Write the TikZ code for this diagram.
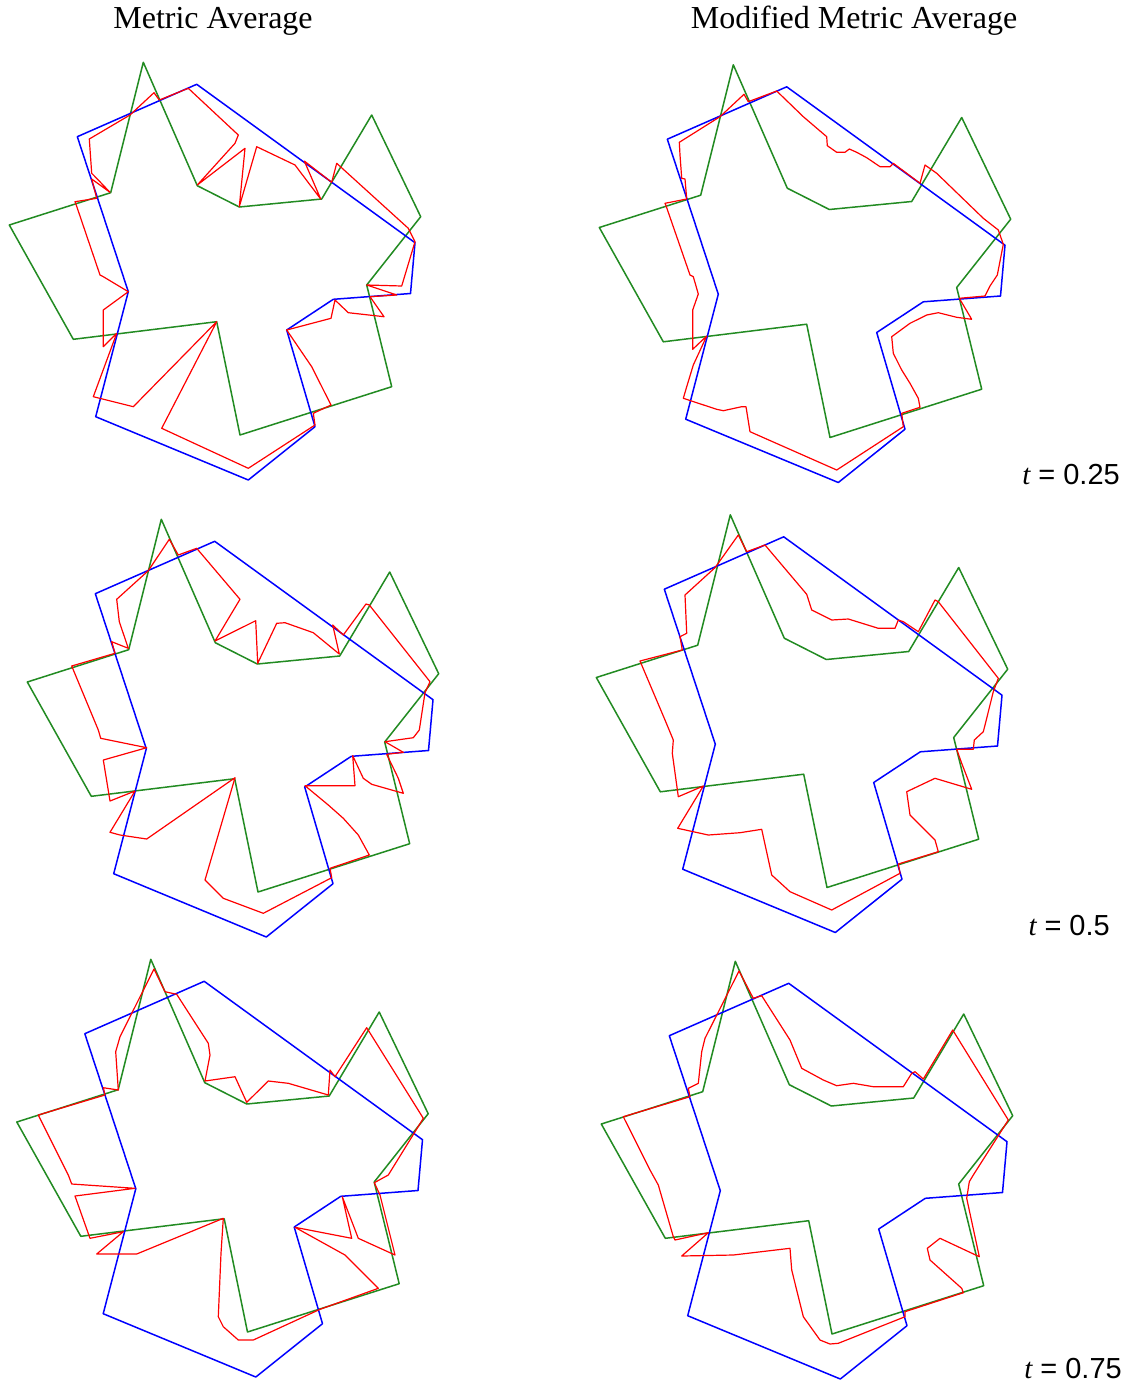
\documentclass[tikz,border=0pt]{standalone}
\usepackage{fontspec}
\setmainfont{Liberation Serif}
\setsansfont{Liberation Sans}
\def\BluePoly{(77.3,136.7) -- (196.7,84.3) -- (415,242.7) -- (410.5,293.5) -- (333.3,299.3) -- (286.7,330) -- (315,426.7) -- (248.3,480) -- (95.7,416.7) -- (128.3,291.7) -- cycle}
\def\GreenPoly{(143.3,62.3) -- (197.3,185.7) -- (239.3,207) -- (321.7,199) -- (371.7,115) -- (420.7,216.7) -- (366.7,285) -- (391.7,386.7) -- (240,435) -- (216.7,321.7) -- (73.3,339.3) -- (9.3,225) -- (110.7,192.7) -- cycle}
\definecolor{pgreen}{RGB}{34,139,34}
\definecolor{pblue}{RGB}{0,0,255}
\definecolor{pred}{RGB}{255,0,0}
\tikzset{
  bl/.style={draw=pblue, line width=1.5pt, line join=round},
  gr/.style={draw=pgreen, line width=1.5pt, line join=round},
  rd/.style={draw=pred, line width=1.2pt, line join=round},
  ttl/.style={font=\fontsize{32}{38}\selectfont, inner sep=0pt},
  tlab/.style={font=\fontsize{29}{34}\selectfont, inner sep=0pt, anchor=base east}
}
\begin{document}
\begin{tikzpicture}[x=1pt,y=-1pt]
\useasboundingbox (0,0) rectangle (1129,1384);
\fill[white] (0,0) rectangle (1129,1384);
% titles
\node[ttl] (t1) at (213,21) {Metric Average};
\node[ttl] (t2) at (854,21) {Modified Metric Average};
% panel 1
\begin{scope}
\draw[gr] \GreenPoly; \draw[bl] \BluePoly;
\end{scope}
\draw[rd] (89.3,139) -- (130,115) -- (154,92.7) -- (159.3,100) -- (188.3,88.3) -- (238.3,135) -- (235,143.3) -- (197.3,185) -- (245,148.3) -- (239.3,206.7) -- (256.7,146.7) -- (295,165) -- (320.7,199) -- (304.3,161) -- (331.7,182.3) -- (336.7,163.3) -- (408.3,228.3) -- (415,241.7) -- (405,275) -- (401.7,286) -- (366.7,285) -- (396.7,295) -- (370,296.7) -- (384,316.7) -- (348.3,312.7) -- (335,300) -- (331,318.3) -- (286.7,330) -- (311.7,366.7) -- (331,405) -- (313.3,413.3) -- (315,425) -- (248.3,468.3) -- (161.7,428.3) -- (216.7,321.7) -- (133.3,406.7) -- (93.3,396.7) -- (116.7,333.3) -- (103.3,346.7) -- (103.3,310) -- (128.3,291.7) -- (103.3,276.7) -- (100,275) -- (76,204.3) -- (75,201.7) -- (96.7,198.3) -- (91.7,179) -- (110,192.3) -- (97.3,179) -- (91.7,173.3) -- cycle;
% panel 2
\begin{scope}[shift={(590,2.5)}]
\draw[gr] \GreenPoly; \draw[bl] \BluePoly;
\end{scope}
\draw[rd] (679.3,142.3) -- (720,116.7) -- (744,94.3) -- (748.3,101.7) -- (776.7,91) -- (803.3,116.7) -- (826.7,136.7) -- (827.3,145.7) -- (836.7,152.3) -- (845,152.3) -- (849.3,149) -- (856.7,152.3) -- (866.7,157.7) -- (880,166.7) -- (890,166.7) -- (893.3,163.3) -- (920,183.3) -- (925,165) -- (936.7,173.3) -- (983.3,218.3) -- (998.3,230) -- (1003.3,244.3) -- (997.3,275) -- (990,286) -- (985,296) -- (959.3,298.3) -- (971.7,319.3) -- (956.7,317.3) -- (938.3,312.7) -- (926.7,315) -- (910,323.3) -- (891.7,336.7) -- (893.3,353.3) -- (901.7,370) -- (910,383.3) -- (918.3,398.3) -- (920,407.3) -- (901.7,413.3) -- (903.3,426.7) -- (836.7,470) -- (750,431.7) -- (746,406.7) -- (741.7,406.7) -- (723.3,410.7) -- (716.7,409.3) -- (683.3,398.3) -- (686.7,386.7) -- (693.3,365) -- (706.7,336) -- (692.7,349.3) -- (692.7,310) -- (698.3,294) -- (693.3,276.7) -- (690,275) -- (666,205.7) -- (665,203.3) -- (686.7,199) -- (685,179) -- (681.7,178.3) -- (680,155) -- cycle;
\node[tlab] (l1) at (1120,484) {\textit{t} \sffamily= 0.25};
% panel 3
\begin{scope}[shift={(18,457)}]
\draw[gr] \GreenPoly; \draw[bl] \BluePoly;
\end{scope}
\draw[rd] (116.7,599.3) -- (148.3,570.7) -- (169.3,539.3) -- (178.3,555) -- (196.7,548.3) -- (240,599.3) -- (215,641) -- (255.7,620.7) -- (257.7,663.3) -- (276.7,623.3) -- (285,622.7) -- (313.3,632.7) -- (339.3,654) -- (332.7,625) -- (343.3,635) -- (366,604) -- (369.3,605) -- (430,681.7) -- (425,692.7) -- (419.3,730) -- (413.3,737.7) -- (385,741.7) -- (403.3,752.3) -- (386.7,754.3) -- (398.3,778.3) -- (403.3,793.3) -- (371.7,784.3) -- (363.3,778.3) -- (352.7,755.7) -- (355,785.7) -- (305,785.7) -- (328.3,805) -- (343.3,818.3) -- (358.3,835) -- (369.3,855) -- (330,868.3) -- (331.7,877.7) -- (263.3,913.3) -- (223.3,898.3) -- (205,880) -- (235,777.7) -- (146.7,839) -- (120,835) -- (110,832.3) -- (135,791) -- (110,801) -- (103.3,760) -- (146.7,747.7) -- (100.7,738.3) -- (98.3,730) -- (71.7,666) -- (115,653.3) -- (111.7,641.7) -- (128.3,648.3) -- (119.3,621.7) -- cycle;
% panel 4
\begin{scope}[shift={(587,452.5)}]
\draw[gr] \GreenPoly; \draw[bl] \BluePoly;
\end{scope}
\draw[rd] (685,595) -- (715,567.7) -- (738.3,535) -- (746.7,551.7) -- (765,545) -- (806.7,594.3) -- (811.7,610) -- (831.7,620) -- (848.3,619) -- (878.3,628.3) -- (895,628.3) -- (898.3,620) -- (903.3,621.7) -- (918.3,631.7) -- (935,600) -- (938.3,601.7) -- (998.3,678.3) -- (993.3,691.7) -- (985,725) -- (983.3,731.7) -- (974.3,740) -- (973.3,749.3) -- (956.7,749.3) -- (961.7,763.3) -- (971.7,789.3) -- (935,778.3) -- (906.7,791.7) -- (910,815) -- (935,840) -- (938.3,851.7) -- (898.3,864) -- (900,873.3) -- (831.7,910) -- (790,891.7) -- (771.7,875) -- (761.7,829.3) -- (740,832.7) -- (708.3,835) -- (677.7,828.3) -- (703.3,786) -- (678.3,796.7) -- (672.3,753.3) -- (673.3,740) -- (665,720) -- (640,661) -- (682.3,650) -- (680,636.7) -- (686.7,633.3) -- cycle;
\node[tlab] (l2) at (1110,935) {\textit{t} \sffamily= 0.5};
% panel 5
\begin{scope}[shift={(7.5,897)}]
\draw[gr] \GreenPoly; \draw[bl] \BluePoly;
\end{scope}
\draw[rd] (154,969) -- (165,991.7) -- (176.7,994.3) -- (208.3,1043.3) -- (210,1055) -- (205,1081) -- (235,1076.7) -- (246.7,1102.3) -- (268.3,1081) -- (288.3,1083.3) -- (328.3,1095) -- (330,1070) -- (335,1076.7) -- (366.7,1027.7) -- (423.3,1118.3) -- (388.3,1175) -- (374.3,1182.7) -- (380,1195) -- (395,1255) -- (358.3,1238.3) -- (342.3,1196.7) -- (351.7,1238.3) -- (295,1227.3) -- (345,1255) -- (378.3,1288.3) -- (320,1309.3) -- (253.3,1340) -- (238.3,1340) -- (223.3,1326.7) -- (218.3,1316.7) -- (221,1253.3) -- (223.3,1218.3) -- (136.7,1254) -- (96.7,1254) -- (123.3,1231.7) -- (90,1238.3) -- (75,1196) -- (135,1188.3) -- (71.7,1184) -- (68.3,1175) -- (38.3,1115) -- (105,1095) -- (103.3,1087.7) -- (118.3,1090) -- (115.7,1051.7) -- (120,1036.7) -- cycle;
% panel 6
\begin{scope}[shift={(592,899)}]
\draw[gr] \GreenPoly; \draw[bl] \BluePoly;
\end{scope}
\draw[rd] (739,971) -- (753.3,998.3) -- (761.7,995.7) -- (790,1040) -- (801.7,1068.3) -- (823.3,1080) -- (836.7,1085.7) -- (853.3,1083.3) -- (873.3,1086.7) -- (903.3,1086.7) -- (911.7,1073.3) -- (915,1071.7) -- (923.3,1079) -- (952.7,1030) -- (1008.3,1120) -- (973.3,1175) -- (969.3,1181.7) -- (966.7,1198.3) -- (979.3,1256.7) -- (940,1238.3) -- (927.3,1248.3) -- (930,1260) -- (961.7,1288.3) -- (963.3,1292.7) -- (905,1311.7) -- (905,1316.7) -- (838.3,1343.3) -- (830,1344) -- (820,1340) -- (803.3,1316.7) -- (791.7,1270) -- (790,1248.3) -- (733.3,1255) -- (681.7,1256) -- (708.3,1232.7) -- (690,1236.7) -- (675,1240) -- (673.3,1236.7) -- (658.3,1185) -- (650,1170) -- (623.3,1116.7) -- (690,1096.7) -- (688.3,1088.3) -- (698.3,1083.3) -- (701.7,1051.7) -- (705,1038.3) -- cycle;
\node[tlab] (l3) at (1122,1378) {\textit{t} \sffamily= 0.75};
\end{tikzpicture}
\end{document}
